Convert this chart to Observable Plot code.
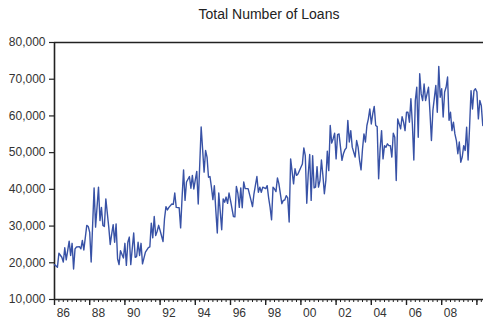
<!DOCTYPE html>
<html>
<head>
<meta charset="utf-8">
<script src="https://cdn.jsdelivr.net/npm/d3@7"></script>
<script src="https://cdn.jsdelivr.net/npm/@observablehq/plot@0.6"></script>
<style>
  body { margin: 0; background: #fff; }
</style>
</head>
<body>
<div id="chart"></div>
<script>
// Total number of loans, monthly observations (months counted from January 1986)
const title = "Total Number of Loans";

const monthsSince1986 = [
  0, 2, 3, 5, 6, 7, 8, 10, 11, 12, 13, 14, 15, 17, 18, 19, 20, 22, 23, 24, 25, 27, 28, 30, 31,
  32, 33, 34, 35, 37, 38, 39, 40, 41, 42, 43, 44, 45, 47, 48, 49, 50, 51, 52, 54, 55, 56, 57, 58,
  59, 60, 62, 64, 65, 66, 67, 68, 69, 70, 71, 72, 74, 75, 76, 77, 78, 80, 81, 82, 83, 85, 86, 87,
  88, 89, 90, 92, 93, 94, 95, 96, 97, 98, 100, 102, 103, 104, 105, 106, 107, 108, 109, 110, 111,
  112, 114, 115, 116, 117, 118, 119, 120, 122, 123, 124, 125, 126, 127, 128, 129, 130, 131, 132,
  134, 135, 136, 138, 139, 140, 141, 142, 144, 145, 146, 147,
  148, 149, 150, 151, 152, 153, 155, 156, 157, 158, 159, 160, 161, 163, 164, 165, 166, 168, 169,
  170, 171, 172, 173, 174, 175, 176, 177, 178, 179, 180, 181, 182, 183, 184, 185, 186, 187, 188,
  189, 190, 191, 192, 193, 194, 196, 197, 198, 199, 200, 201, 202, 203, 205, 206, 207, 208, 209,
  210, 211, 212, 213, 214, 215, 216, 217, 218, 219, 220, 221, 222, 223, 224, 225, 226, 227, 228,
  229, 230, 231, 232, 233, 234, 236, 237, 238, 239, 240, 241, 242, 243, 244, 245, 246, 247, 248,
  249, 250, 251, 252, 253, 254, 255, 256, 257, 258, 260, 261, 262, 263, 264, 265, 266, 267, 268,
  269, 270, 271, 272, 273, 274, 275, 276, 277, 278, 279, 280, 281, 282, 283, 284, 285, 286, 287,
  288, 289, 290, 291, 292
];

const loans = [
  19500, 18800, 22600, 21500, 20200, 24100, 20800, 25900, 22000, 25300, 18300, 23800, 24300, 24400,
  23800, 26100, 23500, 30200, 29900, 28300, 20200, 40400, 29700, 40600, 31500,
  35100, 30200, 29900, 37400, 29700, 25000, 27900, 30400, 25600, 30600, 21100, 19500, 23300, 21300,
  25300, 19300, 25600, 27000, 19500, 28100, 21500, 21700, 25600, 22000,
  25300, 19700, 22900, 24100, 24300, 30800, 26800, 32600, 27400, 28600, 30200, 28800, 25800, 32000,
  35300, 34400, 35100, 36000, 35900, 39000, 35100, 35000, 29500, 37900,
  45300, 37000, 42000, 43500, 40300, 43800, 40100, 42600, 44900, 36000, 57000, 44700, 50600, 48800,
  43300, 43500, 40600, 37200, 41000, 34200, 28100,
  39000, 29000, 37400, 36500, 37900, 36200, 39000, 37000, 32600, 32500, 40800, 39000, 35100, 40400,
  35000, 42000, 40200, 40200, 40200,
  37000, 35300, 38800, 43500, 39200, 40600, 39200, 40600, 40200, 41000, 37700, 35100,
  31700, 40600, 40100, 39400, 43100, 41500, 36100, 37000, 37100, 38300, 37700, 31100, 48300, 41500,
  45600, 43800, 44200, 46000, 46900,
  51300, 49200, 36200, 44200, 49500, 37000, 49200, 40400, 40600, 46200, 40600, 42400, 48000, 43800,
  38800, 42400, 50400, 45100, 57400,
  52600, 53800, 55300, 48300, 54900, 55100, 47900, 49700, 50800, 51300, 58800, 52900, 56000, 51500,
  48800, 53300, 51500, 47900, 45300,
  51000, 55100, 52900, 57400, 59200, 61900, 57800, 60600, 62600, 57400, 57100, 42900, 51000, 56000,
  48300, 51900, 51500, 52400, 51900,
  51900, 48800, 55300, 54200, 42400, 59200, 56500, 59800, 58300, 56000, 61000, 61000, 58300, 64700,
  57800, 48000, 64200, 67800, 54200,
  71500, 66000, 64200, 68700, 64200, 66000, 67800, 61000, 53300, 61500, 68300, 61000, 73500, 65100,
  67400, 59700, 66500, 67800, 70600,
  58800, 61000, 56000, 58300, 55100, 53300, 49700, 52900, 47400, 48800, 51900, 50600, 56900, 48000,
  56900, 66900, 61900, 66900, 67400,
  66500, 59200, 64200, 62800, 57400
];

const yTicks = [10000, 20000, 30000, 40000, 50000, 60000, 70000, 80000];
const labelYears = [1986, 1988, 1990, 1992, 1994, 1996, 1998, 2000, 2002, 2004, 2006, 2008];
const yearLabels = ["86", "88", "90", "92", "94", "96", "98", "00", "02", "04", "06", "08"];

const series = monthsSince1986.map((m, i) => ({ t: 1986 + m / 12, loans: loans[i] }));
const xEnd = 1986 + 292.5 / 12;
const quarterTicks = d3.range(1986, xEnd, 0.25);
const majorTicks = d3.range(1986, xEnd, 2);
const labels = labelYears.map((y, i) => ({ t: y + 0.5, label: yearLabels[i] }));

const axisColor = "#222";
const textColor = "#333";

const chart = Plot.plot({
  width: 483,
  height: 330,
  marginLeft: 54,
  marginRight: 0,
  marginTop: 42,
  marginBottom: 31,
  style: {
    fontFamily: "'Liberation Sans', Arial, sans-serif",
    fontSize: "12px",
    color: textColor,
    background: "#fff",
    overflow: "visible"
  },
  x: { type: "linear", domain: [1986, xEnd], axis: null },
  y: { domain: [10000, 80000], axis: null },
  marks: [
    // y axis ticks and labels
    Plot.axisY(yTicks, {
      label: null,
      tickSize: 5,
      tickPadding: 4,
      tickFormat: d3.format(","),
      stroke: axisColor,
      strokeWidth: 1.2,
      fill: textColor,
      fontSize: 12
    }),
    // quarterly minor ticks and two-year major ticks below the baseline
    Plot.axisX(quarterTicks, { label: null, tickSize: 3, tickFormat: () => "", stroke: axisColor, strokeWidth: 1 }),
    Plot.axisX(majorTicks, { label: null, tickSize: 6, tickFormat: () => "", stroke: axisColor, strokeWidth: 1.4 }),
    // year labels centred on the labelled year
    Plot.text(labels, {
      x: "t",
      text: "label",
      frameAnchor: "bottom",
      dy: 14,
      lineAnchor: "middle",
      fill: textColor,
      fontSize: 12
    }),
    // frame: left, top and bottom edges
    Plot.ruleX([1986], { stroke: axisColor, strokeWidth: 1.6 }),
    Plot.ruleY([10000, 80000], { stroke: axisColor, strokeWidth: 1.6 }),
    // the series
    Plot.line(series, { x: "t", y: "loans", stroke: "#3852a6", strokeWidth: 1.4 }),
    // title
    Plot.text([title], {
      frameAnchor: "top",
      dy: -28,
      lineAnchor: "middle",
      fill: "#222",
      fontSize: 14
    })
  ]
});

document.getElementById("chart").appendChild(chart);
</script>
</body>
</html>
